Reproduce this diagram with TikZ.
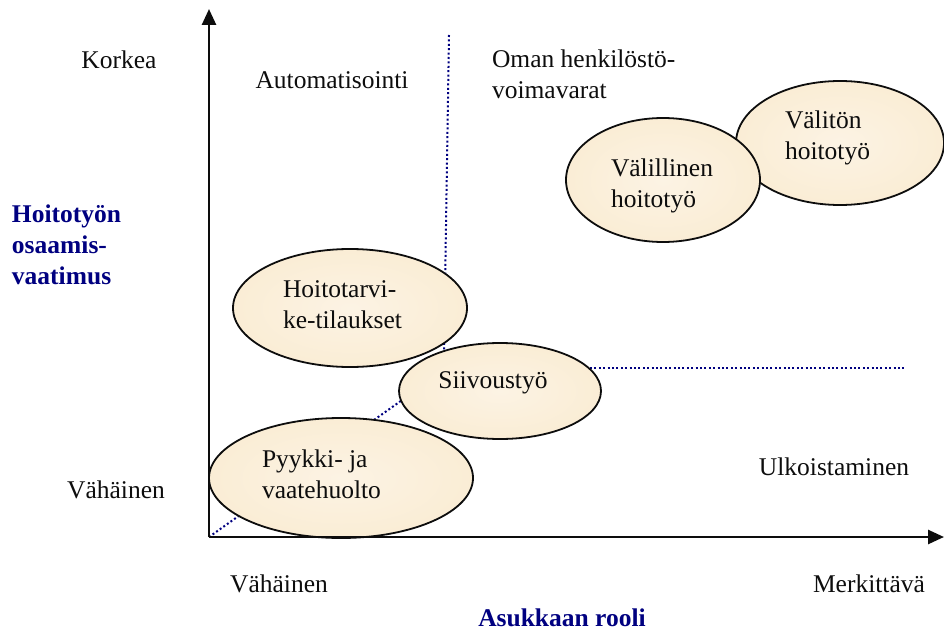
\documentclass[tikz,border=0pt]{standalone}
\usepackage{fontspec}
\setmainfont{Liberation Serif}
\usetikzlibrary{arrows.meta,shapes.geometric}
\definecolor{QuadInk}{gray}{0.05}
\definecolor{QuadNavy}{RGB}{0,0,128}
\definecolor{QuadTask}{RGB}{250,237,213}
\definecolor{QuadTaskLight}{RGB}{252,243,228}
\tikzset{
    quad/diagram/.style={
        x=1pt, y=-1pt,
        font=\fontsize{25.5}{31}\selectfont,
        text=QuadInk,
        line cap=round,
        every node/.style={inner sep=0pt, outer sep=0pt}
    },
    quad/axis/.style={
        draw=QuadInk, line width=2.6pt, line cap=butt,
        -{Triangle[length=16pt, width=14pt]}
    },
    quad/divider/.style={
        draw=QuadNavy, line width=2pt, line cap=butt,
        dash pattern=on 2pt off 2.4pt
    },
    quad/task/.style={
        ellipse, draw=QuadInk, line width=1.8pt,
        inner color=QuadTaskLight, outer color=QuadTask
    },
    quad/label/.style={align=left},
    quad/title/.style={
        font=\fontsize{25.5}{31}\selectfont\bfseries,
        text=QuadNavy, align=left
    }
}

\begin{document}
\begin{tikzpicture}[quad/diagram]
    \useasboundingbox (0,0) rectangle (944,631);
    % axes
    \coordinate (origin) at (209,537);
    \coordinate (ytop) at (209,9);
    \coordinate (xend) at (944,537);
    % dotted dividers, behind the ellipses
    \coordinate (vtop) at (449,35);
    \coordinate (vbot) at (444,352);
    \coordinate (hleft) at (590,368);
    \coordinate (hright) at (905,368);
    \coordinate (dend) at (405,398);
    \draw[quad/divider] (vtop) -- (vbot);
    \draw[quad/divider] (hleft) -- (hright);
    \draw[quad/divider] (origin) -- (dend);
    % tasks
    \node[quad/task, minimum width=234pt, minimum height=118pt] (tilaukset) at (350,308) {};
    \node[quad/task, minimum width=264pt, minimum height=120pt] (pyykki) at (341,478) {};
    \node[quad/task, minimum width=202pt, minimum height=96pt] (siivous) at (500,391) {};
    \node[quad/task, minimum width=208pt, minimum height=124pt] (valiton) at (840,143) {};
    \node[quad/task, minimum width=194pt, minimum height=124pt] (valillinen) at (663,180) {};
    \node[quad/label, anchor=west] (tilauksetT) at (283,305) {Hoitotarvi-\\ke-tilaukset};
    \node[quad/label, anchor=west] (pyykkiT) at (262,474) {Pyykki- ja\\vaatehuolto};
    \node[quad/label] (siivousT) at (493,383) {Siivoustyö};
    \node[quad/label, anchor=west] (valitonT) at (785,138) {Välitön\\hoitotyö};
    \node[quad/label, anchor=west] (valillinenT) at (611,186) {Välillinen\\hoitotyö};
    \draw[quad/axis] (origin) -- (ytop);
    \draw[quad/axis] (origin) -- (xend);
    % quadrant names
    \node[quad/label] (auto) at (332,80) {Automatisointi};
    \node[quad/label, anchor=west] (oma) at (492,74) {Oman henkilöstö-\\voimavarat};
    \node[quad/label] (ulko) at (834,467) {Ulkoistaminen};
    % scale ends
    \node[quad/label] (korkea) at (119,60) {Korkea};
    \node[quad/label] (vahainenY) at (116,490) {Vähäinen};
    \node[quad/label] (vahainenX) at (279,584) {Vähäinen};
    \node[quad/label] (merkittava) at (869,584) {Merkittävä};
    % axis titles
    \node[quad/title, anchor=west] (osaaminen) at (12,245) {Hoitotyön\\osaamis-\\vaatimus};
    \node[quad/title] (rooli) at (562,618) {Asukkaan rooli};
\end{tikzpicture}
\end{document}
